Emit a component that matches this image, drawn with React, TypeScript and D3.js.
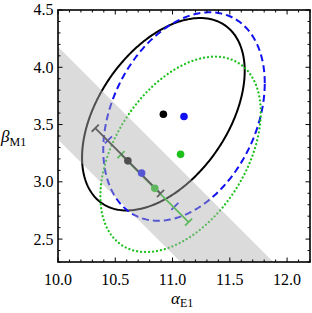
import React from 'react'
import * as d3 from 'd3'

// best-fit points (alpha_E1, beta_M1) and their confidence ellipses
const seriesColors = ['#000000', '#1010f0', '#1ec01e']
const bestAlpha = [10.92, 11.1, 11.07]
const bestBeta = [3.59, 3.57, 3.24]
const sigmaAlpha = [0.71, 0.705, 0.7]
const sigmaBeta = [0.84, 0.91, 0.853]
const corr = [0.45, 0.32, 0.43]
const ellipseDash = ['none', '7,4', '0.01,4']

// constrained fits along the band, with error bars
const fitAlpha = [10.61, 10.73, 10.845]
const fitBeta = [3.183, 3.076, 2.943]
const fitHalf = [0.285, 0.29, 0.295]

// band alpha + beta = const
const bandSums = [13.37, 14.18]

const xTickLabels = ['10.0', '10.5', '11.0', '11.5', '12.0']
const yTickLabels = ['2.5', '3.0', '3.5', '4.0', '4.5']

export default function App() {
  const W = 312, H = 313
  const x = d3.scaleLinear().domain([10, 12.2]).range([58, 310])
  const y = d3.scaleLinear().domain([2.3, 4.5]).range([262, 10])
  const [x0, x1] = x.range()
  const [y0, y1] = y.range()

  const ellipsePath = (i: number) => {
    const ts = d3.range(0, 361).map(d => (d * Math.PI) / 180)
    const r = corr[i]
    const pts = ts.map(t => [
      x(bestAlpha[i] + sigmaAlpha[i] * Math.cos(t)),
      y(bestBeta[i] + sigmaBeta[i] * (r * Math.cos(t) + Math.sqrt(1 - r * r) * Math.sin(t))),
    ] as [number, number])
    return d3.line().curve(d3.curveLinearClosed)(pts) || ''
  }

  const [lo, hi] = bandSums
  const xd = x.domain(), yd = y.domain()
  const band: [number, number][] = [
    [xd[0], hi - xd[0]], [hi - yd[0], yd[0]], [lo - yd[0], yd[0]], [xd[0], lo - xd[0]],
  ]
  const bandPath = d3.line()(band.map(p => [x(p[0]), y(p[1])] as [number, number])) || ''

  const minor = d3.range(100, 123).map(v => v / 10)
  const minorY = d3.range(23, 46).map(v => v / 10)
  const isMajor = (v: number) => Math.abs(v * 2 - Math.round(v * 2)) < 1e-6

  const errorBar = (i: number) => {
    const h = fitHalf[i]
    const ax = x(fitAlpha[i] - h), ay = y(fitBeta[i] + h)
    const bx = x(fitAlpha[i] + h), by = y(fitBeta[i] - h)
    const len = Math.hypot(bx - ax, by - ay)
    const nx = -(by - ay) / len * 5, ny = (bx - ax) / len * 5
    const c = i === 0 ? '#222' : seriesColors[i]
    return (
      <g key={'eb' + i} stroke={c} strokeWidth={1.8} fill="none">
        {i === 1 ? null : <line x1={ax} y1={ay} x2={bx} y2={by} />}
        <line x1={ax - nx} y1={ay - ny} x2={ax + nx} y2={ay + ny} />
        <line x1={bx - nx} y1={by - ny} x2={bx + nx} y2={by + ny} />
      </g>
    )
  }

  return (
    <svg width={W} height={H} style={{ position: 'absolute', left: 0, top: 0 }}
      fontFamily="'Liberation Serif', 'DejaVu Serif', serif">
      <defs>
        <clipPath id="plot"><rect x={x0} y={y1} width={x1 - x0} height={y0 - y1} /></clipPath>
      </defs>
      <rect width={W} height={H} fill="#fff" />
      <g clipPath="url(#plot)">
        {[0, 1, 2].map(i => (
          <path key={'el' + i} d={ellipsePath(i)} fill="none" stroke={seriesColors[i]}
            strokeWidth={i === 2 ? 2.3 : 2} strokeDasharray={ellipseDash[i]}
            strokeLinecap={i === 2 ? 'round' : 'butt'} />
        ))}
        {[0, 1, 2].map(i => (
          <circle key={'bp' + i} cx={x(bestAlpha[i])} cy={y(bestBeta[i])} r={3.8} fill={seriesColors[i]} />
        ))}
        {[1, 2, 0].map(i => errorBar(i))}
        {[0, 1, 2].map(i => (
          <circle key={'fp' + i} cx={x(fitAlpha[i])} cy={y(fitBeta[i])} r={3.8} fill={seriesColors[i]} />
        ))}
        <path d={bandPath} fill="#b0b0b0" fillOpacity={0.45} />
      </g>
      {/* ticks */}
      <g stroke="#000" strokeWidth={1}>
        {minor.map(v => {
          const l = isMajor(v) ? 4.5 : 2.5
          return (
            <g key={'tx' + v}>
              <line x1={x(v)} x2={x(v)} y1={y0} y2={y0 - l} />
              <line x1={x(v)} x2={x(v)} y1={y1} y2={y1 + l} />
            </g>
          )
        })}
        {minorY.map(v => {
          const l = isMajor(v) ? 4.5 : 2.5
          return (
            <g key={'ty' + v}>
              <line x1={x0} x2={x0 + l} y1={y(v)} y2={y(v)} />
              <line x1={x1} x2={x1 - l} y1={y(v)} y2={y(v)} />
            </g>
          )
        })}
      </g>
      <rect x={x0} y={y1} width={x1 - x0} height={y0 - y1} fill="none" stroke="#000" strokeWidth={1.6} />
      {xTickLabels.map(t => (
        <text key={'xl' + t} x={x(+t)} y={285} fontSize={16} textAnchor="middle">{t}</text>
      ))}
      {yTickLabels.map(t => (
        <text key={'yl' + t} x={53.5} y={y(+t)} dy="0.34em" fontSize={16} textAnchor="end">{t}</text>
      ))}
      <text x={171} y={304} fontSize={17}>
        <tspan fontStyle="italic">α</tspan>
        <tspan fontSize={12} dy={3}>E1</tspan>
      </text>
      <text x={1} y={142} fontSize={17}>
        <tspan fontStyle="italic">β</tspan>
        <tspan fontSize={12} dy={4}>M1</tspan>
      </text>
    </svg>
  )
}
